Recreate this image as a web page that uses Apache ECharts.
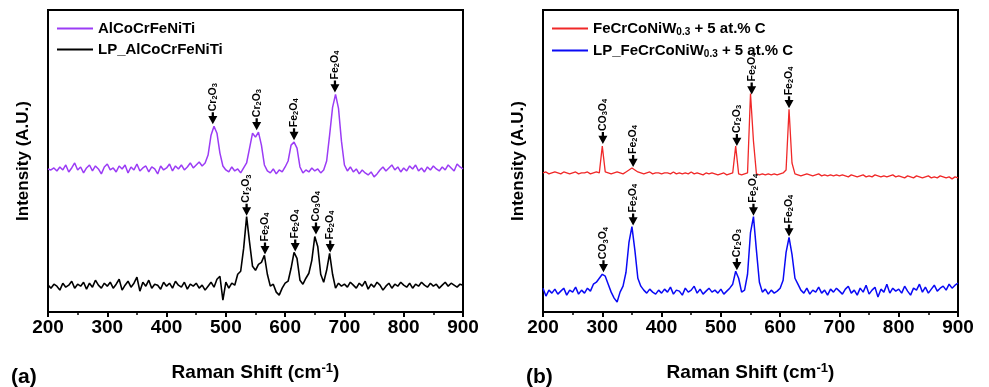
<!DOCTYPE html>
<html>
<head>
<meta charset="utf-8">
<script src="https://cdn.jsdelivr.net/npm/echarts@6/dist/echarts.min.js"></script>
<style>
  html, body { margin: 0; padding: 0; background: #fff; }
  #chart { width: 989px; height: 387px; }
</style>
</head>
<body>
<div id="chart"></div>
<script>
// Raman shift sampling (cm-1): 200..900 every 5
const ramanStart = 200;
const ramanStep = 5;

// panel (a) intensities, arbitrary units (rows of 100 cm-1)
const alCoCrFeNiTi = [
  144,143,145,142,146,143,148,141,145,150,143,146,140,145,148,142,147,144,139,146,
  149,143,145,141,147,144,148,140,146,143,149,142,145,147,141,146,144,139,147,143,
  145,149,142,147,144,148,143,146,150,145,148,151,147,150,158,178,187,180,160,147,
  143,141,146,142,144,140,145,150,165,180,176,181,168,148,142,140,144,139,143,141,
  146,152,168,171,165,146,140,143,141,145,142,144,140,143,152,178,206,219,205,172,
  148,142,146,141,144,139,143,140,138,141,136,139,143,146,142,145,148,143,146,141,
  145,142,147,144,148,142,145,141,146,143,147,144,142,146,143,148,145,142,149,146,
  144
];
const lpAlCoCrFeNiTi = [
  27,24,28,26,22,29,25,27,31,24,28,26,30,23,29,25,32,27,24,29,
  26,30,24,28,33,22,27,31,25,29,35,21,30,26,32,24,28,27,23,30,
  26,29,24,31,27,25,30,23,28,26,29,24,27,22,26,30,25,33,36,12,
  30,24,29,27,38,41,64,96,70,46,42,48,50,57,38,26,28,20,17,24,
  29,31,44,60,54,32,28,34,39,52,76,66,38,30,42,59,38,24,29,26,
  28,25,30,27,24,29,26,31,23,28,25,30,27,22,26,29,24,28,26,30,
  27,25,29,24,28,26,30,27,25,29,26,28,24,27,30,26,29,27,25,28,
  27
];

// panel (b) intensities
const feCrCoNiW = [
  140,141,139,140,141,140,139,141,140,139,140,141,139,140,140,141,139,140,141,140,
  167,141,140,139,140,141,140,139,141,143,145,143,141,140,139,140,141,139,140,140,
  139,140,140,139,141,139,140,139,140,139,141,139,140,139,138,140,139,140,139,138,
  139,140,138,139,140,167,139,138,139,140,220,172,139,138,139,138,139,138,139,138,
  139,140,143,204,150,139,138,137,138,139,138,137,138,139,137,138,137,138,137,138,
  137,138,137,136,138,137,136,137,138,136,137,136,138,137,136,137,136,137,138,136,
  137,136,135,137,136,135,137,136,135,136,137,135,136,135,137,136,135,136,134,136,
  135
];
const lpFeCrCoNiW = [
  24,16,22,19,23,18,21,24,17,22,20,25,18,22,19,24,21,28,30,34,
  38,36,28,20,14,10,20,26,40,70,86,62,34,26,22,19,23,20,18,22,
  19,23,20,25,18,22,21,17,24,20,22,26,19,23,18,21,24,20,22,19,
  23,18,21,24,28,41,34,20,22,38,80,96,62,30,20,23,18,22,19,21,
  24,32,60,75,58,34,28,22,19,24,18,22,20,25,19,22,17,23,20,24,
  21,18,23,26,19,22,17,24,20,27,18,22,25,15,23,20,28,19,24,21,
  23,19,26,21,17,24,22,28,20,25,19,23,27,21,24,26,22,28,24,27,
  29
];

// peak annotations: position, arrow tip height, phase
const peaksA1 = [478, 552, 615, 684];
const tipsA1 = [189, 183, 173, 221];
const phasesA1 = ['Cr2O3', 'Cr2O3', 'Fe2O4', 'Fe2O4'];

const peaksA2 = [535, 566, 617, 652, 676];
const tipsA2 = [97, 58, 61, 78, 60];
const phasesA2 = ['Cr2O3', 'Fe2O4', 'Fe2O4', 'Co3O4', 'Fe2O4'];

const peaksB1 = [301, 352, 527, 552, 615];
const tipsB1 = [169, 146, 167, 219, 205];
const phasesB1 = ['CO3O4', 'Fe2O4', 'Cr2O3', 'Fe2O4', 'Fe2O4'];

const peaksB2 = [302, 352, 527, 555, 615];
const tipsB2 = [40, 87, 42, 97, 76];
const phasesB2 = ['CO3O4', 'Fe2O4', 'Cr2O3', 'Fe2O4', 'Fe2O4'];

const xTicks = [200, 300, 400, 500, 600, 700, 800, 900];

const sans = "'Liberation Sans', Arial, sans-serif";
const arrowPath = 'path://M3,0L5,0L5,4L8,4L4,13L0,4L3,4Z';

function toPairs(values) {
  return values.map((v, i) => [ramanStart + i * ramanStep, v]);
}

function arrows(xs, tips, phases) {
  return {
    symbol: arrowPath,
    symbolSize: [9, 12],
    symbolOffset: [0, -6],
    itemStyle: { color: '#000' },
    label: {
      show: true,
      position: 'top',
      distance: 1,
      rotate: 90,
      align: 'left',
      verticalAlign: 'middle',
      color: '#000',
      fontFamily: sans,
      fontSize: 10.5,
      fontWeight: 'bold',
      formatter: (p) => p.name.replace(/(\d)/g, '{s|$1}'),
      rich: {
        s: { fontFamily: sans, fontSize: 7.5, fontWeight: 'bold', color: '#000', verticalAlign: 'bottom', padding: [4, 0, 0, 0] },
      },
    },
    data: xs.map((x, i) => ({ name: phases[i], coord: [x, tips[i]] })),
  };
}

function xAxisFor(gridIndex) {
  return {
    type: 'value',
    gridIndex,
    min: 200,
    max: 900,
    interval: 100,
    name: 'Raman Shift (cm{sup|-1})',
    nameLocation: 'middle',
    nameGap: 50,
    nameTextStyle: {
      fontFamily: sans, fontSize: 19, fontWeight: 'bold', color: '#000',
      rich: { sup: { fontFamily: sans, fontSize: 13, fontWeight: 'bold', color: '#000', verticalAlign: 'top', padding: [0, 0, 8, 0] } },
    },
    axisLine: { lineStyle: { color: '#000', width: 2 } },
    axisTick: { show: true, length: 5, lineStyle: { color: '#000', width: 2 } },
    minorTick: { show: true, splitNumber: 2, length: 3, lineStyle: { color: '#000', width: 1.5 } },
    axisLabel: {
      fontFamily: sans, fontSize: 19, fontWeight: 'bold', color: '#000', margin: 6,
      formatter: (v) => (xTicks.includes(v) ? String(v) : ''),
    },
    splitLine: { show: false },
  };
}

function yAxisFor(gridIndex) {
  return {
    type: 'value',
    gridIndex,
    min: 0,
    max: 304,
    name: 'Intensity (A.U.)',
    nameLocation: 'middle',
    nameGap: 16,
    nameTextStyle: { fontFamily: sans, fontSize: 17, fontWeight: 'bold', color: '#000' },
    axisLine: { show: true, lineStyle: { color: '#000', width: 2 } },
    axisTick: { show: false },
    axisLabel: { show: false },
    splitLine: { show: false },
  };
}

const legendText = {
  fontFamily: sans, fontSize: 15, fontWeight: 'bold', color: '#000',
  rich: { sub: { fontFamily: sans, fontSize: 10, fontWeight: 'bold', color: '#000', verticalAlign: 'bottom', padding: [7, 0, 0, 0] } },
};

const chart = echarts.init(document.getElementById('chart'), null, { renderer: 'canvas' });

chart.setOption({
  animation: false,
  backgroundColor: '#fff',
  title: [
    { text: '(a)', left: 6, top: 362, textStyle: { fontFamily: sans, fontSize: 21, fontWeight: 'bold', color: '#000' } },
    { text: '(b)', left: 521, top: 362, textStyle: { fontFamily: sans, fontSize: 21, fontWeight: 'bold', color: '#000' } },
  ],
  grid: [
    { left: 48, top: 10, width: 415, height: 304, show: true, borderColor: '#000', borderWidth: 2, backgroundColor: 'transparent' },
    { left: 543, top: 10, width: 415, height: 304, show: true, borderColor: '#000', borderWidth: 2, backgroundColor: 'transparent' },
  ],
  legend: [
    {
      data: ['AlCoCrFeNiTi', 'LP_AlCoCrFeNiTi'],
      orient: 'vertical', left: 52, top: 16, itemGap: 6,
      icon: 'rect', itemWidth: 36, itemHeight: 2,
      textStyle: legendText,
    },
    {
      data: ['FeCrCoNiW0.3 + 5 at.% C', 'LP_FeCrCoNiW0.3 + 5 at.% C'],
      orient: 'vertical', left: 547, top: 16, itemGap: 6,
      icon: 'rect', itemWidth: 36, itemHeight: 2,
      textStyle: legendText,
      formatter: (n) => n.replace('W0.3', 'W{sub|0.3}'),
    },
  ],
  xAxis: [xAxisFor(0), xAxisFor(1)],
  yAxis: [yAxisFor(0), yAxisFor(1)],
  series: [
    {
      name: 'AlCoCrFeNiTi', type: 'line', xAxisIndex: 0, yAxisIndex: 0,
      data: toPairs(alCoCrFeNiTi), showSymbol: false,
      lineStyle: { color: '#9b3cf5', width: 1.5 }, itemStyle: { color: '#9b3cf5' },
      markPoint: arrows(peaksA1, tipsA1, phasesA1),
    },
    {
      name: 'LP_AlCoCrFeNiTi', type: 'line', xAxisIndex: 0, yAxisIndex: 0,
      data: toPairs(lpAlCoCrFeNiTi), showSymbol: false,
      lineStyle: { color: '#000', width: 1.6 }, itemStyle: { color: '#000' },
      markPoint: arrows(peaksA2, tipsA2, phasesA2),
    },
    {
      name: 'FeCrCoNiW0.3 + 5 at.% C', type: 'line', xAxisIndex: 1, yAxisIndex: 1,
      data: toPairs(feCrCoNiW), showSymbol: false,
      lineStyle: { color: '#f02828', width: 1.3 }, itemStyle: { color: '#f02828' },
      markPoint: arrows(peaksB1, tipsB1, phasesB1),
    },
    {
      name: 'LP_FeCrCoNiW0.3 + 5 at.% C', type: 'line', xAxisIndex: 1, yAxisIndex: 1,
      data: toPairs(lpFeCrCoNiW), showSymbol: false,
      lineStyle: { color: '#0a0af5', width: 1.5 }, itemStyle: { color: '#0a0af5' },
      markPoint: arrows(peaksB2, tipsB2, phasesB2),
    },
  ],
});

window.addEventListener('resize', () => chart.resize());
</script>
</body>
</html>
